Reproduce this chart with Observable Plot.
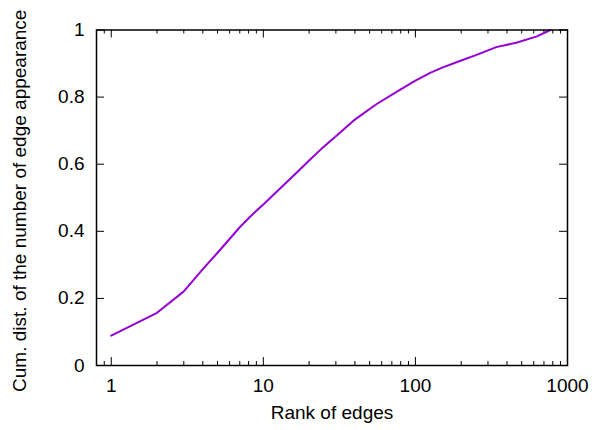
<!DOCTYPE html>
<html><head><meta charset="utf-8">
<script src="https://cdn.jsdelivr.net/npm/d3@7"></script>
<script src="https://cdn.jsdelivr.net/npm/@observablehq/plot@0.6"></script>
<style>body{margin:0;background:#fff;} svg{display:block;}</style>
</head><body><div id="chart"></div>
<script>
const ranks = [1,2,3,4,5,6,7,8,9,10,14,17,20,24,30,40,55,80,100,125,150,200,250,340,460,630,770];
const cumDist = [0.089,0.157,0.221,0.287,0.336,0.377,0.412,0.439,0.461,0.48,0.543,0.58,0.611,0.645,0.683,0.733,0.778,0.823,0.849,0.872,0.888,0.909,0.925,0.949,0.962,0.981,1.0];
const xTicks = [1,10,100,1000];
const xMinorTicks = [0.9,2,3,4,5,6,7,8,9,20,30,40,50,60,70,80,90,200,300,400,500,600,700,800,900];
const yTicks = [0,0.2,0.4,0.6,0.8,1];
const yTickLabels = ["0","0.2","0.4","0.6","0.8","1"];
const xLabel = "Rank of edges";
const yLabel = "Cum. dist. of the number of edge appearance";

const data = ranks.map((r,i)=>({rank:r, value:cumDist[i]}));
const W = 592, H = 430;
const mL = 96, mR = 25, mT = 29.5, mB = 65;
const pw = W - mL - mR, ph = H - mT - mB;
const font = "Liberation Sans, Arial, Helvetica, sans-serif";
const fs = 19;

const chart = Plot.plot({
  width: W, height: H,
  marginLeft: mL, marginRight: mR, marginTop: mT, marginBottom: mB,
  style: {fontFamily: font, fontSize: fs + "px", color: "black", background: "white"},
  x: {type: "log", domain: [0.8, 1000]},
  y: {domain: [0, 1]},
  marks: [
    Plot.axisX(xTicks, {tickSize: 0, tickPadding: 13, tickFormat: d => String(d), fontSize: fs, label: null}),
    Plot.axisY(yTicks, {tickSize: 0, tickPadding: 12, tickFormat: d => yTickLabels[yTicks.indexOf(d)], fontSize: fs, label: null}),
    // inward ticks, mirrored on all sides
    Plot.tickX(xTicks, {x: d => d, insetTop: ph - 8, stroke: "black", strokeWidth: 1}),
    Plot.tickX(xTicks, {x: d => d, insetBottom: ph - 8, stroke: "black", strokeWidth: 1}),
    Plot.tickX(xMinorTicks, {x: d => d, insetTop: ph - 4, stroke: "black", strokeWidth: 1}),
    Plot.tickX(xMinorTicks, {x: d => d, insetBottom: ph - 4, stroke: "black", strokeWidth: 1}),
    Plot.tickY(yTicks, {y: d => d, insetRight: pw - 8, stroke: "black", strokeWidth: 1}),
    Plot.tickY(yTicks, {y: d => d, insetLeft: pw - 8, stroke: "black", strokeWidth: 1}),
    Plot.line(data, {x: "rank", y: "value", stroke: "#9400d3", strokeWidth: 2}),
    Plot.frame({stroke: "black", strokeWidth: 1.5}),
    Plot.text([xLabel], {frameAnchor: "bottom", dy: 53, text: d => d, fontSize: fs, fill: "black"}),
    Plot.text([yLabel], {frameAnchor: "left", dx: -77, dy: 3, rotate: -90, textAnchor: "middle", text: d => d, fontSize: fs, fill: "black"})
  ]
});
document.getElementById("chart").appendChild(chart);
</script>
</body></html>
